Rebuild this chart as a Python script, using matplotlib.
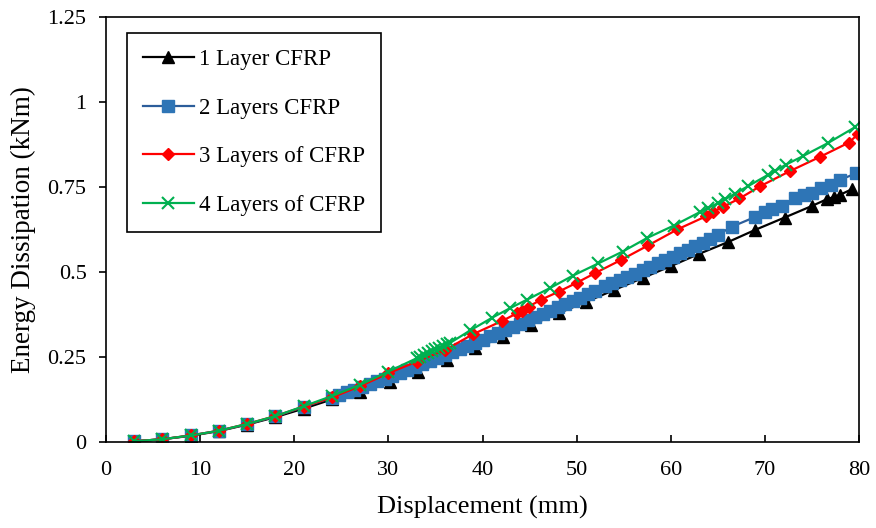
import numpy as np
import matplotlib.pyplot as plt

plt.rcParams['font.family'] = ['Liberation Serif', 'DejaVu Serif']

# 1 layer CFRP
x1 = [3, 6, 9, 12, 15, 18, 21, 24, 27, 30.2, 33.2, 36.2, 39.2, 42.2, 45.2, 48.1, 51.0,
      54.0, 57.0, 60.0, 63.0, 66.1, 69.0, 72.1, 75.0, 76.6, 77.3, 78.0, 79.3]
y1 = [0.002, 0.008, 0.018, 0.032, 0.051, 0.073, 0.098, 0.125, 0.148, 0.177, 0.207, 0.241,
      0.275, 0.310, 0.345, 0.379, 0.412, 0.447, 0.482, 0.517, 0.553, 0.588, 0.624, 0.660,
      0.694, 0.714, 0.720, 0.727, 0.744]

# 2 layers CFRP
x2 = [3, 6, 9, 12, 15, 18, 21,
      24.0, 24.8, 25.6, 26.4, 27.2, 28.0, 28.8, 29.6, 30.4, 31.2, 32.0, 32.8, 33.6, 34.4,
      35.2, 36.0, 36.8, 37.6, 38.4, 39.2, 40.0, 40.8, 41.6, 42.4, 43.2, 44.0, 44.8, 45.6,
      46.4, 47.2, 48.0, 48.8, 49.6, 50.4, 51.2, 52.0, 53.0, 53.8, 54.6, 55.4, 56.2, 57.0,
      57.8, 58.6, 59.4, 60.2, 61.0, 61.8, 62.6, 63.4, 64.2, 65.0, 66.5, 69.0, 70.0, 70.8,
      71.8, 73.2, 74.2, 75.0, 76.0, 77.0, 78.0, 79.7]
y2 = [0.002, 0.008, 0.019, 0.033, 0.052, 0.075, 0.103,
      0.130, 0.138, 0.146, 0.154, 0.162, 0.170, 0.178, 0.186, 0.194, 0.203, 0.211, 0.220,
      0.229, 0.238, 0.247, 0.256, 0.265, 0.274, 0.283, 0.292, 0.301, 0.311, 0.320, 0.329,
      0.339, 0.348, 0.358, 0.367, 0.377, 0.386, 0.396, 0.405, 0.415, 0.424, 0.434, 0.443,
      0.458, 0.466, 0.476, 0.485, 0.495, 0.505, 0.515, 0.525, 0.535, 0.545, 0.555, 0.565,
      0.575, 0.585, 0.596, 0.609, 0.633, 0.662, 0.675, 0.684, 0.695, 0.716, 0.726, 0.733,
      0.746, 0.756, 0.771, 0.790]

# 3 layers of CFRP
x3 = [3, 6, 9, 12, 15, 18, 21, 24, 27, 30, 33, 36, 39, 42.1, 43.7, 44.2, 44.9, 46.2,
      48.1, 50.0, 52.0, 54.7, 57.6, 60.7, 63.7, 64.5, 65.6, 67.3, 69.5, 72.7, 75.9, 78.9,
      79.9]
y3 = [0.002, 0.008, 0.019, 0.033, 0.053, 0.076, 0.104, 0.131, 0.164, 0.202, 0.236, 0.270,
      0.317, 0.356, 0.379, 0.386, 0.398, 0.418, 0.442, 0.468, 0.497, 0.535, 0.578, 0.625,
      0.663, 0.677, 0.692, 0.716, 0.752, 0.797, 0.839, 0.880, 0.905]

# 4 layers of CFRP
x4 = [3, 6, 9, 12, 15, 18, 21, 24, 27, 30, 33.0, 33.4, 33.8, 34.2, 34.6, 35.0, 35.4,
      35.8, 36.2, 36.6, 38.7, 41.0, 42.9, 44.7, 47.2, 49.6, 52.3, 54.9, 57.5, 60.3, 63.1,
      64.0, 65.0, 65.8, 66.8, 68.2, 70.3, 71.1, 72.2, 74.0, 76.7, 79.6]
y4 = [0.002, 0.008, 0.019, 0.033, 0.053, 0.076, 0.105, 0.135, 0.168, 0.207, 0.246, 0.251,
      0.256, 0.261, 0.266, 0.272, 0.277, 0.282, 0.287, 0.292, 0.328, 0.365, 0.393, 0.418,
      0.453, 0.489, 0.525, 0.560, 0.600, 0.636, 0.676, 0.689, 0.702, 0.714, 0.730, 0.752,
      0.785, 0.797, 0.815, 0.840, 0.879, 0.926]

labels = ["1 Layer CFRP", "2 Layers CFRP", "3 Layers of CFRP", "4 Layers of CFRP"]
xt = [0, 10, 20, 30, 40, 50, 60, 70, 80]
yt = [0, 0.25, 0.5, 0.75, 1, 1.25]
ytl = ["0", "0.25", "0.5", "0.75", "1", "1.25"]

fig = plt.figure(figsize=(8.76, 5.28), dpi=100)
ax = fig.add_axes([0.121, 0.163, 0.8596, 0.805])

ax.plot(x1, y1, "-^", color="black", lw=1.6, ms=8, label=labels[0])
ax.plot(x2, y2, "-s", color="#2C5D9A", mfc="#2E75B6", mec="#2E75B6", lw=1.6, ms=8,
        label=labels[1])
ax.plot(x3, y3, "-D", color="#FF0000", lw=1.6, ms=6, label=labels[2])
ax.plot(x4, y4, "-x", color="#00B050", lw=1.6, ms=8, mew=1.5, label=labels[3])

ax.set_xlim(0, 80)
ax.set_ylim(0, 1.25)
ax.set_xticks(xt)
ax.set_yticks(yt, ytl)
ax.tick_params(axis="x", direction="in", length=5, width=1.2, labelsize=16, pad=14)
ax.tick_params(axis="y", direction="out", length=5, width=1.2, labelsize=16, pad=9)
for s in ax.spines.values():
    s.set_linewidth(1.2)

ax.set_xlabel("Displacement (mm)", fontsize=19, labelpad=11)
ax.set_ylabel("Energy Dissipation (kNm)", fontsize=19.5, labelpad=8)

leg = ax.legend(loc="upper left", bbox_to_anchor=(0.028, 0.962), borderaxespad=0,
                fontsize=16.5, fancybox=False, edgecolor="black", framealpha=1,
                labelspacing=1.2, handlelength=2.2, handletextpad=0.25, borderpad=0.7)
leg.get_frame().set_linewidth(1.2)

fig.savefig("out.png", dpi=100)
